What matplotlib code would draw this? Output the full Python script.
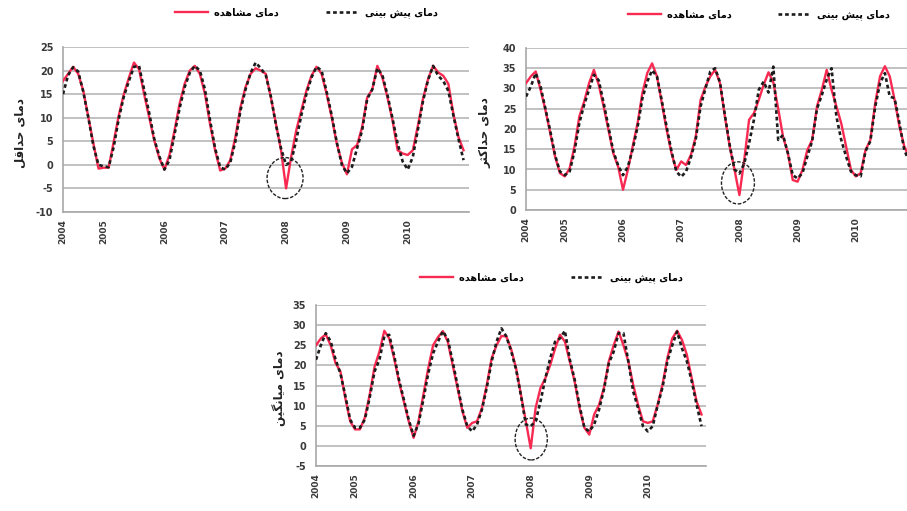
import numpy as np
import matplotlib.pyplot as plt
import matplotlib.patches as mpatches

# year labels on the category axis (monthly data, May 2004 - Dec 2010)
years = ["2004", "2005", "2006", "2007", "2008", "2009", "2010"]
year_pos = [0, 8, 20, 32, 44, 56, 68]

# minimum temperature
obs_min = [17.8, 19.3, 20.8, 19.3, 15.7, 10.1, 4.5, -0.8, -0.6, -0.6,
           4.9, 10.5, 15.0, 18.5, 21.7, 20.3, 15.0, 10.1, 5.2, 1.4,
           -1.0, 2.1, 7.3, 13.0, 17.2, 20.0, 21.0, 19.3, 15.0, 8.7,
           3.1, -1.2, -0.8, 1.0, 5.9, 12.2, 16.5, 19.3, 20.5, 20.0,
           19.3, 14.3, 8.7, 3.1, -5.0, 1.7, 7.3, 11.5, 15.7, 18.9,
           20.8, 19.3, 15.0, 10.1, 4.5, 0.5, -2.0, 3.3, 4.2, 8.0,
           14.3, 16.0, 21.0, 18.5, 14.3, 9.4, 3.1, 2.4, 2.1, 3.1,
           8.3, 14.0, 18.2, 21.0, 19.6, 18.9, 17.2, 10.8, 5.9, 3.1]
pred_min = [15.0, 19.0, 20.7, 19.8, 15.5, 10.0, 4.0, 0.0, -0.3, -0.5,
            3.8, 9.8, 14.5, 17.8, 20.8, 21.0, 16.0, 11.0, 5.5, 1.8,
            -1.0, 1.0, 6.5, 12.0, 16.5, 19.5, 21.0, 20.0, 16.0, 9.5,
            3.5, -0.5, -1.0, 0.5, 5.0, 11.5, 16.0, 19.5, 21.7, 20.5,
            19.0, 14.5, 8.5, 3.5, 0.0, 0.7, 5.2, 10.5, 15.0, 18.5,
            20.8, 20.0, 15.5, 10.5, 4.8, 0.0, -1.8, -0.4, 3.5, 7.3,
            14.0, 16.0, 20.5, 19.0, 14.8, 9.8, 4.5, 0.7, -1.0, 1.7,
            7.5, 13.5, 18.0, 21.0, 18.9, 17.8, 15.7, 10.5, 5.5, 1.0]

# maximum temperature
obs_max = [31.3, 33.0, 34.2, 29.7, 24.7, 19.0, 13.2, 9.1, 8.3, 10.3,
           15.7, 23.1, 26.8, 31.3, 34.6, 30.9, 25.6, 19.8, 14.0, 10.7,
           5.0, 9.9, 15.7, 21.4, 28.9, 33.8, 36.2, 33.0, 26.4, 19.8,
           14.0, 9.9, 12.0, 11.1, 13.6, 18.1, 27.2, 30.5, 33.0, 34.6,
           31.3, 23.1, 15.7, 9.9, 3.7, 12.4, 22.3, 23.9, 27.2, 30.9,
           34.0, 31.5, 25.0, 18.1, 14.0, 7.4, 7.0, 9.9, 14.8, 17.3,
           25.6, 29.7, 34.6, 29.7, 25.6, 21.4, 15.7, 9.9, 8.3, 9.1,
           14.8, 17.3, 26.4, 33.0, 35.5, 33.0, 27.2, 20.6, 15.7, 13.0]
pred_max = [28.0, 30.5, 33.8, 30.5, 25.0, 19.5, 13.5, 9.5, 8.6, 9.5,
            14.5, 21.5, 26.0, 29.7, 33.4, 32.0, 26.5, 20.5, 14.5, 11.0,
            8.6, 10.7, 15.0, 20.5, 27.6, 31.7, 34.5, 33.0, 27.0, 20.5,
            14.5, 9.5, 8.2, 9.5, 13.0, 17.5, 25.6, 30.0, 34.2, 35.0,
            31.5, 23.5, 16.0, 10.0, 9.0, 11.5, 16.5, 22.3, 29.7, 31.7,
            29.0, 35.4, 17.3, 18.5, 14.0, 8.6, 7.8, 9.1, 13.2, 17.0,
            25.0, 28.4, 32.2, 35.0, 23.1, 17.3, 13.2, 9.5, 8.6, 8.3,
            14.5, 17.0, 25.5, 31.3, 33.8, 28.0, 27.6, 21.4, 14.8, 12.0]

# mean temperature
obs_mean = [25.0, 26.7, 27.7, 25.0, 20.6, 18.5, 11.9, 6.1, 4.1, 4.1,
            7.0, 12.7, 19.7, 23.4, 28.6, 26.7, 21.8, 16.0, 11.0, 6.1,
            2.0, 6.1, 12.7, 19.3, 25.0, 27.0, 28.5, 25.9, 20.1, 14.4,
            8.6, 4.5, 5.7, 6.1, 9.4, 15.2, 21.8, 25.0, 27.3, 27.2,
            24.0, 19.3, 12.7, 6.1, -0.6, 9.4, 14.4, 16.8, 20.1, 24.2,
            27.6, 25.9, 21.0, 16.0, 9.4, 4.5, 2.8, 7.8, 10.2, 14.4,
            21.0, 25.0, 28.4, 25.0, 21.0, 15.2, 10.2, 6.1, 5.7, 6.1,
            10.2, 15.2, 21.8, 26.7, 28.6, 26.3, 22.6, 16.8, 11.0, 7.8]
pred_mean = [21.4, 25.0, 28.0, 26.0, 21.5, 18.0, 12.5, 6.5, 4.5, 4.5,
             6.5, 12.0, 18.5, 21.4, 27.2, 27.6, 22.5, 16.5, 11.5, 6.5,
             2.5, 5.5, 11.5, 18.0, 23.0, 25.9, 28.5, 26.5, 21.0, 15.0,
             9.0, 4.9, 3.6, 5.3, 9.0, 14.5, 21.0, 25.9, 29.2, 27.2,
             23.5, 19.0, 12.5, 5.3, 4.9, 6.1, 11.0, 16.8, 21.8, 25.9,
             26.7, 28.6, 21.5, 16.5, 10.0, 4.5, 3.6, 5.3, 9.0, 14.0,
             20.5, 23.4, 28.0, 28.0, 21.0, 13.5, 9.4, 4.9, 3.6, 4.9,
             10.0, 14.5, 21.0, 25.0, 28.4, 24.2, 21.0, 16.0, 10.2, 4.9]


def rtl(s):
    # presentation forms in logical order -> visual order
    return s[::-1]


lab_obs = rtl("\uFEA9\uFEE3\uFE8E\uFBFC \uFEE3\uFEB8\uFE8E\uFEEB\uFEAA\uFEE9")
lab_pred = rtl("\uFEA9\uFEE3\uFE8E\uFBFC \uFB58\uFBFF\uFEB6 \uFE91\uFBFF\uFEE8\uFBFD")
lab_min = rtl("\uFEA9\uFEE3\uFE8E\uFBFC \uFEA3\uFEAA\uFE8D\uFED7\uFEDE")
lab_max = rtl("\uFEA9\uFEE3\uFE8E\uFBFC \uFEA3\uFEAA\uFE8D\uFB90\uFE9C\uFEAE")
lab_mean = rtl("\uFEA9\uFEE3\uFE8E\uFBFC \uFEE3\uFBFF\uFE8E\uFEE7\uFB95\uFBFF\uFEE6")

RED = "#f92a52"
DARK = "#1c1c1c"
GRID = "#bcbcbc"

plt.rcParams["font.family"] = ["DejaVu Sans"]
plt.rcParams["axes.unicode_minus"] = False

fig = plt.figure(figsize=(9.07, 5.11), dpi=100)
fig.patch.set_facecolor("white")


def draw_panel(rect, obs, pred, ylim, ylabel, leg_xy, ylab_x, circ):
    ax = fig.add_axes(rect)
    x = np.arange(len(obs))
    ax.plot(x, obs, color=RED, lw=1.7, label=lab_obs, zorder=3)
    ax.plot(x, pred, color=DARK, lw=1.9, linestyle=(0, (1.4, 1.1)),
            label=lab_pred, zorder=4)

    ax.set_xlim(0, 80)
    ax.set_ylim(*ylim)
    ax.set_yticks(np.arange(ylim[0], ylim[1] + 1, 5))
    ax.set_xticks(year_pos)
    ax.set_xticklabels(years, rotation=90, fontsize=6.5, fontweight="bold",
                       color="#3a3a3a", va="top")
    ax.tick_params(axis="y", length=0, pad=7, labelsize=7, labelcolor="#3a3a3a")
    ax.tick_params(axis="x", length=0, pad=5)
    for t in ax.get_yticklabels():
        t.set_fontweight("bold")

    ax.grid(axis="y", color=GRID, lw=1.3)
    ax.set_axisbelow(True)
    for s in ["top", "right"]:
        ax.spines[s].set_visible(False)
    ax.spines["left"].set_color("#a8a8a8")
    ax.spines["bottom"].set_color("#a8a8a8")
    ax.spines["left"].set_linewidth(1.2)
    ax.spines["bottom"].set_linewidth(1.2)

    ax.text(ylab_x, 0.48, ylabel, rotation=90, ha="center", va="center",
            fontsize=8.5, fontweight="bold", color="#222222",
            transform=ax.transAxes)

    leg = ax.legend(loc="center", bbox_to_anchor=leg_xy, ncol=2,
                    frameon=False, fontsize=7, handlelength=3.4,
                    handletextpad=0.6, columnspacing=4.8)
    for t in leg.get_texts():
        t.set_fontweight("bold")

    ell = mpatches.Ellipse(circ[:2], circ[2], circ[3], fill=False,
                           edgecolor="#222222", lw=1.0, linestyle=(0, (2.5, 1.2)),
                           zorder=5, clip_on=False)
    ax.add_patch(ell)
    return ax


# top left: minimum
draw_panel([63 / 907, 1 - 212 / 511, 405.6 / 907, 165 / 511],
           obs_min, pred_min, (-10, 25), lab_min,
           (0.60, 1.206), -0.106, (43.8, -2.8, 7.1, 8.7))

# top right: maximum (runs past the right edge)
draw_panel([526 / 907, 1 - 210 / 511, 388 / 907, 162 / 511],
           obs_max, pred_max, (0, 40), lab_max,
           (0.60, 1.204), -0.106, (43.7, 6.7, 6.8, 10.4))

# bottom: mean
draw_panel([316 / 907, 1 - 466 / 511, 390.4 / 907, 161 / 511],
           obs_mean, pred_mean, (-5, 35), lab_mean,
           (0.603, 1.168), -0.095, (44.1, 1.7, 6.6, 10.4))

fig.savefig("out.png", dpi=100)
